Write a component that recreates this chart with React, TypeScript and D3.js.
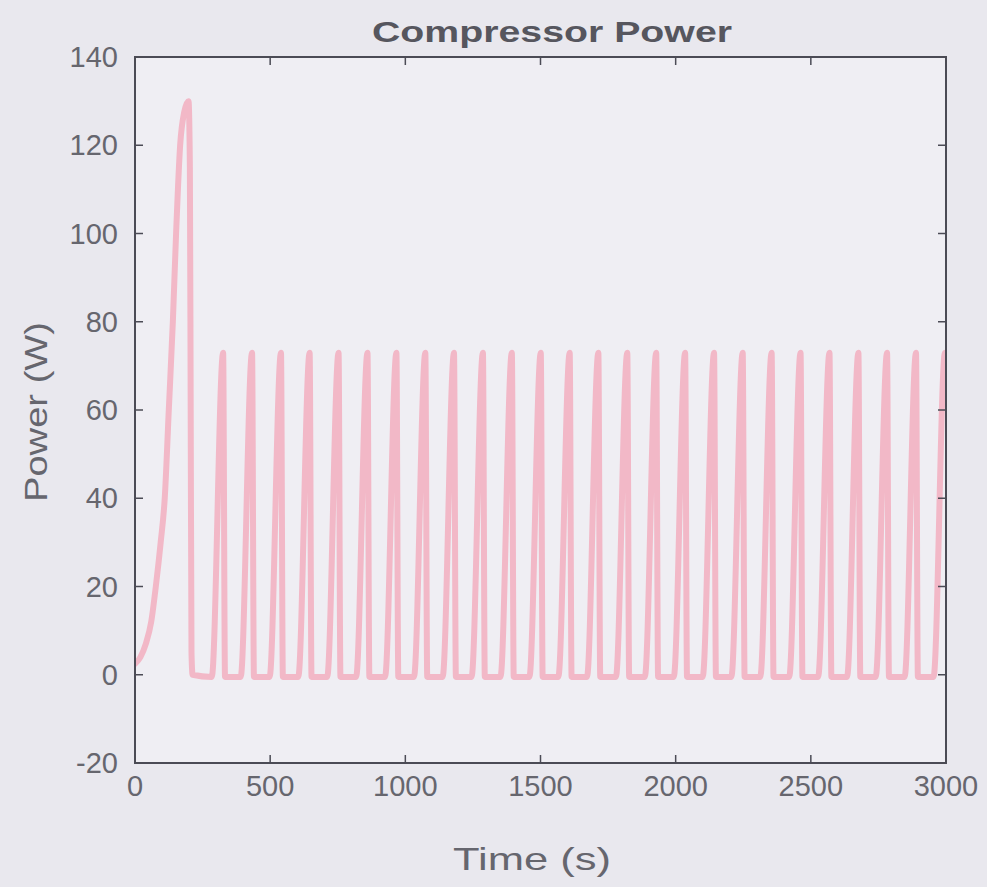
import React from "react";
import * as d3 from "d3";

// ---- data ----
const initTimes = [0, 20, 40, 60, 77, 95, 110, 125, 140, 152, 167, 182, 198, 203, 206, 209, 213];
const initPower = [2.5, 4, 7, 12, 20, 30, 40, 60, 80, 100, 120, 127.5, 130, 115, 60, 5, 0];

const riseStart = [284, 391, 498, 604, 711, 818, 925, 1032, 1138, 1245, 1352, 1459, 1566, 1672, 1779, 1886, 1993, 2100, 2206, 2313, 2420, 2527, 2634, 2740, 2847, 2954];
const peakTimes = [326, 433, 540, 646, 753, 860, 967, 1074, 1180, 1287, 1394, 1501, 1608, 1714, 1821, 1928, 2035, 2142, 2248, 2355, 2462, 2569, 2676, 2782, 2889, 2996];
const fallEnd = [333, 440, 547, 653, 760, 867, 974, 1081, 1187, 1294, 1401, 1508, 1615, 1721, 1828, 1935, 2042, 2149, 2255, 2362, 2469, 2576, 2683, 2789, 2896, 3000];
const peakPower = [73, 73, 73, 73, 73, 73, 73, 73, 73, 73, 73, 73, 73, 73, 73, 73, 73, 73, 73, 73, 73, 73, 73, 73, 73, 73];
const troughPower = [-0.5, -0.5, -0.5, -0.5, -0.5, -0.5, -0.5, -0.5, -0.5, -0.5, -0.5, -0.5, -0.5, -0.5, -0.5, -0.5, -0.5, -0.5, -0.5, -0.5, -0.5, -0.5, -0.5, -0.5, -0.5, 72];

const xTicks = [0, 500, 1000, 1500, 2000, 2500, 3000];
const yTicks = [-20, 0, 20, 40, 60, 80, 100, 120, 140];

const title = "Compressor Power";
const xLabel = "Time (s)";
const yLabel = "Power (W)";

// ---- build points ----
const points: [number, number][] = [];
initTimes.forEach((t, i) => points.push([t, initPower[i]]));
peakTimes.forEach((p, i) => {
  points.push([riseStart[i], -0.5]);
  points.push([p, peakPower[i]]);
  points.push([fallEnd[i], troughPower[i]]);
});

const W = 987;
const H = 887;
const L = 135, R = 946, T = 57, B = 763;

export default function App() {
  const x = d3.scaleLinear().domain([0, 3000]).range([L, R]);
  const y = d3.scaleLinear().domain([-20, 140]).range([B, T]);
  const line = d3
    .line<[number, number]>()
    .x((d) => x(d[0]))
    .y((d) => y(d[1]))
    .curve(d3.curveMonotoneX);

  const axisColor = "#4b4b55";
  const titleColor = "#56565e";
  const textColor = "#66666e";
  const font = "'Liberation Sans', Arial, sans-serif";
  const tl = 8;

  return (
    <svg
      width={W}
      height={H}
      style={{ position: "absolute", left: 0, top: 0 }}
      fontFamily={font}
    >
      <rect x={0} y={0} width={W} height={H} fill="#e9e8ee" />
      <rect x={L} y={T} width={R - L} height={B - T} fill="#efeef3" />
      <defs>
        <clipPath id="plotclip">
          <rect x={L} y={T} width={R - L} height={B - T} />
        </clipPath>
      </defs>
      <path
        d={line(points) || ""}
        fill="none"
        stroke="#f2b8c7"
        strokeWidth={6}
        strokeLinejoin="round"
        strokeLinecap="round"
        clipPath="url(#plotclip)"
      />
      {/* box */}
      <rect x={L} y={T} width={R - L} height={B - T} fill="none" stroke={axisColor} strokeWidth={2} />
      {xTicks.map((t) => (
        <g key={"x" + t}>
          <line x1={x(t)} x2={x(t)} y1={B} y2={B - tl} stroke={axisColor} strokeWidth={1.5} />
          <line x1={x(t)} x2={x(t)} y1={T} y2={T + tl} stroke={axisColor} strokeWidth={1.5} />
          <text x={x(t)} y={B + 33} textAnchor="middle" fontSize={29} fill={textColor}>
            {t}
          </text>
        </g>
      ))}
      {yTicks.map((t) => (
        <g key={"y" + t}>
          <line x1={L} x2={L + tl} y1={y(t)} y2={y(t)} stroke={axisColor} strokeWidth={1.5} />
          <line x1={R} x2={R - tl} y1={y(t)} y2={y(t)} stroke={axisColor} strokeWidth={1.5} />
          <text x={L - 17} y={y(t) + 10} textAnchor="end" fontSize={29} fill={textColor}>
            {t}
          </text>
        </g>
      ))}
      <text
        x={552}
        y={42}
        textAnchor="middle"
        fontSize={29}
        fontWeight="bold"
        fill={titleColor}
        textLength={360}
        lengthAdjust="spacingAndGlyphs"
      >
        {title}
      </text>
      <text
        x={532}
        y={870}
        textAnchor="middle"
        fontSize={32}
        fill={textColor}
        textLength={158}
        lengthAdjust="spacingAndGlyphs"
      >
        {xLabel}
      </text>
      <text
        transform={`translate(47, 412) rotate(-90)`}
        textAnchor="middle"
        fontSize={32}
        fill={textColor}
        textLength={180}
        lengthAdjust="spacingAndGlyphs"
      >
        {yLabel}
      </text>
    </svg>
  );
}
